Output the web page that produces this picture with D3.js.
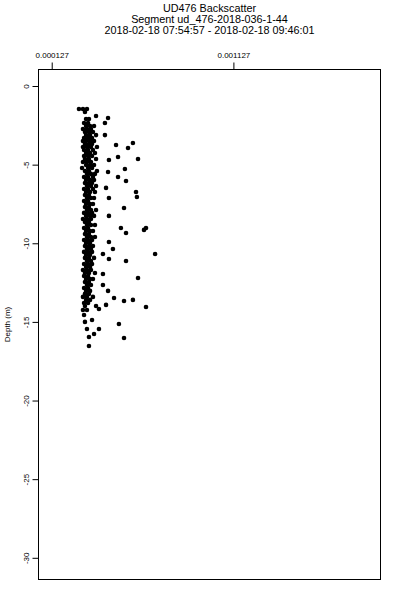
<!DOCTYPE html>
<html>
<head>
<meta charset="utf-8">
<script src="https://cdn.jsdelivr.net/npm/d3@7"></script>
<style>
  body { margin: 0; background: white; }
  text { font-family: "Liberation Sans", Arial, Helvetica, sans-serif; fill: black; }
</style>
</head>
<body>
<script>
var titleLines = [
  "UD476 Backscatter",
  "Segment ud_476-2018-036-1-44",
  "2018-02-18 07:54:57 - 2018-02-18 09:46:01"
];
var yLabel = "Depth (m)";
var xTicks = [0.000127, 0.001127];
var yTicks = [0, -5, -10, -15, -20, -25, -30];
var xLimits = [0.0000543, 0.0019367];
var yLimits = [1.05, -31.38];

// [backscatter, depth]
var samples = [
  [0.000277,-1.46],[0.000299,-1.46],[0.000321,-1.46],[0.000310,-1.65],[0.000371,-1.91],
  [0.000316,-2.10],[0.000332,-2.10],[0.000305,-2.35],[0.000327,-2.35],
  [0.000316,-2.54],[0.000338,-2.54],[0.000360,-2.54],
  [0.000299,-2.73],[0.000321,-2.73],[0.000343,-2.73],
  [0.000310,-2.92],[0.000332,-2.92],[0.000354,-2.92],
  [0.000316,-3.12],[0.000338,-3.12],[0.000371,-3.12],
  [0.000305,-3.31],[0.000327,-3.31],[0.000349,-3.31],
  [0.000299,-3.50],[0.000316,-3.50],[0.000338,-3.50],[0.000360,-3.50],
  [0.000310,-3.69],[0.000332,-3.69],[0.000349,-3.69],
  [0.000299,-3.88],[0.000321,-3.88],[0.000343,-3.88],[0.000376,-3.88],
  [0.000305,-4.07],[0.000327,-4.07],[0.000354,-4.07],
  [0.000316,-4.26],[0.000338,-4.26],[0.000365,-4.26],
  [0.000305,-4.45],[0.000327,-4.45],[0.000349,-4.45],
  [0.000310,-4.64],[0.000332,-4.64],[0.000371,-4.64],
  [0.000299,-4.83],[0.000321,-4.83],[0.000343,-4.83],
  [0.000316,-5.02],[0.000338,-5.02],[0.000360,-5.02],
  [0.000294,-5.21],[0.000327,-5.21],[0.000349,-5.21],
  [0.000310,-5.40],[0.000332,-5.40],[0.000376,-5.40],
  [0.000321,-5.59],[0.000343,-5.59],[0.000365,-5.59],
  [0.000305,-5.79],[0.000327,-5.79],[0.000354,-5.79],
  [0.000316,-5.98],[0.000338,-5.98],[0.000360,-5.98],
  [0.000310,-6.17],[0.000332,-6.17],[0.000349,-6.17],
  [0.000321,-6.36],[0.000343,-6.36],[0.000371,-6.36],
  [0.000305,-6.55],[0.000327,-6.55],[0.000354,-6.55],
  [0.000316,-6.74],[0.000338,-6.74],[0.000365,-6.74],
  [0.000310,-6.93],[0.000332,-6.93],
  [0.000321,-7.12],[0.000343,-7.12],[0.000360,-7.12],
  [0.000305,-7.31],[0.000327,-7.31],
  [0.000316,-7.50],[0.000338,-7.50],[0.000354,-7.50],
  [0.000310,-7.69],[0.000332,-7.69],
  [0.000321,-7.88],[0.000343,-7.88],[0.000371,-7.88],
  [0.000305,-8.07],[0.000327,-8.07],[0.000349,-8.07],
  [0.000316,-8.26],[0.000338,-8.26],[0.000360,-8.26],
  [0.000299,-8.46],[0.000321,-8.46],[0.000343,-8.46],
  [0.000310,-8.65],[0.000332,-8.65],
  [0.000321,-8.84],[0.000343,-8.84],[0.000365,-8.84],
  [0.000305,-9.03],[0.000327,-9.03],
  [0.000316,-9.22],[0.000338,-9.22],[0.000354,-9.22],
  [0.000310,-9.41],[0.000332,-9.41],
  [0.000321,-9.60],[0.000343,-9.60],[0.000365,-9.60],
  [0.000305,-9.79],[0.000327,-9.79],[0.000349,-9.79],
  [0.000316,-9.98],[0.000338,-9.98],
  [0.000310,-10.17],[0.000332,-10.17],[0.000354,-10.17],
  [0.000321,-10.36],[0.000343,-10.36],
  [0.000305,-10.55],[0.000327,-10.55],[0.000349,-10.55],
  [0.000316,-10.74],[0.000338,-10.74],
  [0.000310,-10.93],[0.000332,-10.93],[0.000360,-10.93],
  [0.000321,-11.13],[0.000343,-11.13],
  [0.000305,-11.32],[0.000327,-11.32],[0.000349,-11.32],
  [0.000316,-11.51],[0.000338,-11.51],
  [0.000299,-11.70],[0.000321,-11.70],[0.000343,-11.70],
  [0.000310,-11.89],[0.000332,-11.89],[0.000365,-11.89],
  [0.000305,-12.08],[0.000327,-12.08],
  [0.000316,-12.27],[0.000338,-12.27],[0.000354,-12.27],
  [0.000310,-12.46],[0.000332,-12.46],
  [0.000321,-12.65],[0.000343,-12.65],
  [0.000305,-12.84],[0.000327,-12.84],
  [0.000316,-13.03],[0.000338,-13.03],
  [0.000310,-13.22],[0.000332,-13.22],
  [0.000299,-13.41],[0.000321,-13.41],[0.000354,-13.41],
  [0.000316,-13.60],[0.000338,-13.60],
  [0.000305,-13.80],[0.000327,-13.80],
  [0.000310,-13.99],[0.000371,-13.99],
  [0.000299,-14.24],[0.000321,-14.24],
  [0.000305,-14.56],[0.000310,-15.00],[0.000321,-15.45],[0.000332,-15.96],[0.000332,-16.53],
  // scattered higher readings
  [0.000437,-2.03],[0.000420,-2.35],[0.000420,-3.12],[0.000481,-3.75],[0.000574,-3.62],
  [0.000547,-3.94],[0.000602,-4.64],[0.000492,-4.51],[0.000442,-4.70],[0.000530,-5.28],
  [0.000437,-5.47],[0.000492,-5.79],[0.000536,-6.04],[0.000591,-6.74],[0.000596,-7.06],
  [0.000525,-7.76],[0.000442,-7.12],[0.000426,-6.48],[0.000442,-8.26],[0.000508,-9.03],
  [0.000646,-9.03],[0.000635,-9.15],[0.000536,-9.35],[0.000442,-9.92],[0.000464,-10.36],
  [0.000409,-10.68],[0.000696,-10.68],[0.000536,-11.13],[0.000442,-11.00],[0.000602,-12.21],
  [0.000409,-11.95],[0.000409,-12.65],[0.000437,-13.03],[0.000470,-13.48],[0.000525,-13.67],
  [0.000574,-13.60],[0.000646,-14.05],[0.000426,-13.92],[0.000497,-15.13],[0.000525,-16.02],
  [0.000387,-14.18],[0.000387,-15.45],[0.000360,-15.77],[0.000349,-14.88]
];

var width = 400, height = 600;
var margin = {top: 69.5, right: 19.5, bottom: 20.5, left: 38.5};

var svg = d3.select("body")
  .append("svg")
  .attr("width", width)
  .attr("height", height);

var x = d3.scaleLinear().domain(xLimits).range([margin.left, width - margin.right]);
var y = d3.scaleLinear().domain(yLimits).range([margin.top, height - margin.bottom]);

// title
svg.selectAll("text.title")
  .data(titleLines)
  .enter()
  .append("text")
  .attr("class", "title")
  .attr("x", (margin.left + width - margin.right) / 2)
  .attr("y", function(d, i) { return 12 + i * 11; })
  .attr("text-anchor", "middle")
  .style("font-size", "10.8px")
  .text(function(d) { return d; });

// points
svg.append("g")
  .selectAll("circle")
  .data(samples)
  .enter()
  .append("circle")
  .attr("cx", function(d) { return x(d[0]); })
  .attr("cy", function(d) { return y(d[1]); })
  .attr("r", 2.3)
  .attr("fill", "black");

// top axis
var topAxis = svg.append("g")
  .attr("transform", "translate(0," + margin.top + ")")
  .call(d3.axisTop(x).tickValues(xTicks).tickSize(7).tickPadding(5).tickFormat(d3.format(".6f")));
topAxis.select(".domain").remove();
topAxis.selectAll("text").style("font-size", "8px").attr("fill", "black");

// left axis, labels turned sideways
var leftAxis = svg.append("g")
  .attr("transform", "translate(" + margin.left + ",0)")
  .call(d3.axisLeft(y).tickValues(yTicks).tickSize(6).tickFormat(function(d) { return String(d); }));
leftAxis.select(".domain").remove();
leftAxis.selectAll("text")
  .attr("x", null)
  .attr("dy", null)
  .attr("text-anchor", "middle")
  .attr("transform", "translate(-10,0) rotate(-90)")
  .style("font-size", "8px")
  .attr("fill", "black");

svg.append("text")
  .attr("transform", "translate(9.5," + ((margin.top + height - margin.bottom) / 2) + ") rotate(-90)")
  .attr("text-anchor", "middle")
  .style("font-size", "8px")
  .text(yLabel);

// frame
svg.append("rect")
  .attr("x", margin.left)
  .attr("y", margin.top)
  .attr("width", width - margin.left - margin.right)
  .attr("height", height - margin.top - margin.bottom)
  .attr("fill", "none")
  .attr("stroke", "black")
  .attr("stroke-width", 1);
</script>
</body>
</html>
